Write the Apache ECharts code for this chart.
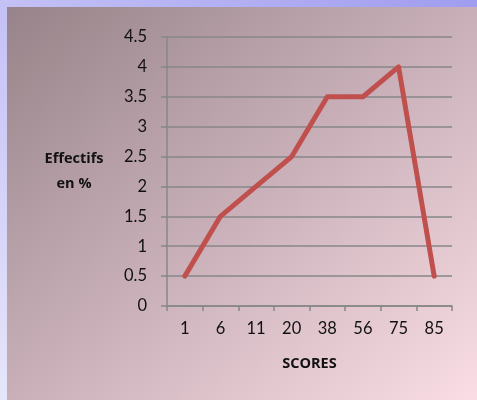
<!DOCTYPE html>
<html>
<head>
<meta charset="utf-8">
<script src="https://cdn.jsdelivr.net/npm/echarts@6/dist/echarts.min.js"></script>
<style>
  html, body { margin: 0; padding: 0; width: 477px; height: 400px; overflow: hidden; }
  body { position: relative; background: linear-gradient(to bottom left, #a09cf0, #e6e6fb); }
  #panel { position: absolute; left: 7px; top: 7px; right: 0; bottom: 0;
           background: linear-gradient(to bottom right, #978389, #c9b0b8 50%, #fadde5); }
  #chart { position: absolute; left: 0; top: 0; width: 477px; height: 400px; }
</style>
</head>
<body>
<div id="panel"></div>
<div id="chart"></div>
<script>
const categories = ['1', '6', '11', '20', '38', '56', '75', '85'];
const effectifs = [0.5, 1.5, 2, 2.5, 3.5, 3.5, 4, 0.5];
const xTitle = 'SCORES';
const yTitle = 'Effectifs\nen %';

const chart = echarts.init(document.getElementById('chart'), null, { renderer: 'canvas' });
const tickFont = 'Lato, "Open Sans", sans-serif';
const nameFont = '"Open Sans", Lato, sans-serif';
const gray = '#878787';
chart.setOption({
  backgroundColor: 'transparent',
  animation: false,
  grid: { left: 167, top: 37, right: 25, bottom: 94, containLabel: false },
  xAxis: {
    type: 'category',
    data: categories,
    boundaryGap: true,
    name: xTitle,
    nameLocation: 'middle',
    nameGap: 50,
    nameTextStyle: { fontFamily: nameFont, fontWeight: 'bold', fontSize: 14.5, color: '#111' },
    axisLine: { show: true, lineStyle: { color: gray, width: 1.5 } },
    axisTick: { show: true, length: 5, lineStyle: { color: gray, width: 1.5 } },
    axisLabel: { margin: 14, fontFamily: tickFont, fontSize: 16.5, color: '#111' },
    splitLine: { show: false }
  },
  yAxis: {
    type: 'value',
    min: 0,
    max: 4.5,
    interval: 0.5,
    name: yTitle,
    nameLocation: 'middle',
    nameRotate: 0,
    nameGap: 93,
    nameTextStyle: { fontFamily: nameFont, fontWeight: 'bold', fontSize: 14.5, color: '#111', lineHeight: 25, align: 'center', padding: [2, 0, 0, 0] },
    axisLine: { show: true, lineStyle: { color: gray, width: 1.5 } },
    axisTick: { show: true, length: 6, lineStyle: { color: gray, width: 1.5 } },
    axisLabel: { margin: 20, fontFamily: tickFont, fontSize: 16.5, color: '#111' },
    splitLine: { show: true, lineStyle: { color: gray, width: 1.5 } }
  },
  series: [{
    type: 'line',
    data: effectifs,
    symbol: 'none',
    smooth: false,
    lineStyle: { color: '#c0504d', width: 5, cap: 'round', join: 'round' }
  }]
});
</script>
</body>
</html>
